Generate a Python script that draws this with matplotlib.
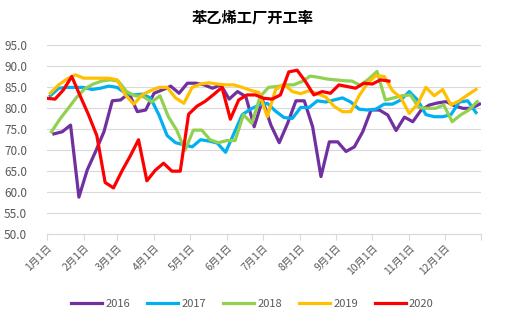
import matplotlib
matplotlib.use("Agg")
import matplotlib.pyplot as plt
import matplotlib.dates as mdates
import pandas as pd

plt.rcParams['font.family'] = ['Noto Sans CJK SC', 'DejaVu Sans']

title = "苯乙烯工厂开工率"
years = ["2016", "2017", "2018", "2019", "2020"]
colors = ["#7030A0", "#00B0F0", "#92D050", "#FFC000", "#FF0000"]
# first weekly date of each series (plotted on a common calendar year)
start_dates = ["2021-01-07", "2021-01-04", "2021-01-05", "2021-01-04", "2021-01-01"]

v2016 = [73.9, 74.4, 76.0, 58.8, 65.3, 69.7, 74.4, 81.8, 82.0, 83.6,
         79.2, 79.6, 83.6, 84.4, 85.3, 83.6, 86.0, 86.0, 85.6, 84.8,
         85.6, 82.2, 84.0, 82.8, 75.6, 82.0, 76.0, 71.8, 76.4, 81.8,
         81.8, 75.6, 63.7, 72.0, 72.0, 69.7, 70.8, 74.4, 79.6, 79.6,
         78.4, 74.7, 77.9, 76.8, 79.6, 80.8, 81.3, 81.6, 80.6, 80.0,
         80.0, 81.0]
v2017 = [83.0, 84.8, 85.0, 85.0, 85.0, 84.5, 84.8, 85.3, 85.0, 83.6,
         83.2, 83.4, 82.5, 78.5, 73.5, 71.8, 71.3, 70.8, 72.5, 72.2,
         71.7, 69.5, 74.0, 78.5, 79.8, 80.8, 81.2, 79.3, 77.8, 77.6,
         80.2, 80.2, 81.8, 81.5, 82.0, 82.5, 81.5, 79.8, 79.6, 79.8,
         81.0, 81.0, 82.0, 84.0, 82.0, 78.5, 78.0, 78.0, 78.5, 81.5,
         81.8, 79.0]
v2018 = [74.4, 77.4, 80.0, 82.6, 84.7, 85.8, 86.5, 86.8, 86.5, 84.0,
         83.0, 82.8, 81.5, 83.0, 78.0, 74.8, 70.0, 74.8, 74.8, 72.5,
         71.8, 72.3, 72.3, 78.5, 76.4, 82.8, 85.0, 85.2, 85.6, 85.6,
         86.4, 87.7, 87.4, 87.0, 86.8, 86.6, 86.5, 85.5, 87.0, 88.8,
         82.0, 82.5, 83.0, 83.2, 80.2, 80.0, 80.0, 80.8, 76.8, 78.4,
         79.6, 81.6]
v2019 = [83.6, 85.6, 87.0, 88.0, 87.2, 87.2, 87.2, 87.2, 86.8, 83.2,
         81.0, 83.2, 84.2, 85.0, 85.0, 82.5, 81.2, 85.0, 85.8, 86.1,
         85.8, 85.6, 85.6, 85.0, 84.3, 83.8, 78.0, 84.5, 85.8, 84.0,
         83.5, 84.2, 83.5, 82.7, 80.5, 79.2, 79.2, 83.0, 86.0, 87.8,
         87.6, 84.2, 82.5, 78.8, 81.0, 85.0, 83.0, 84.5, 80.8, 81.8,
         83.2, 84.5]
v2020 = [82.4, 82.2, 84.4, 87.6, 83.0, 78.5, 73.5, 62.3, 61.0, 65.0,
         68.6, 72.5, 62.7, 65.2, 66.9, 65.0, 65.0, 78.6, 80.5, 81.7,
         83.3, 85.0, 77.4, 82.0, 83.2, 83.2, 82.4, 82.2, 83.2, 88.7,
         89.1, 86.4, 83.2, 84.0, 83.6, 85.6, 85.2, 84.8, 86.0, 85.8,
         86.8, 86.5]
series = [v2016, v2017, v2018, v2019, v2020]

yticks = [50, 55, 60, 65, 70, 75, 80, 85, 90, 95]

fig = plt.figure(figsize=(5.05, 3.22), dpi=100)
ax = fig.add_axes([0.0925, 0.2733, 0.8595, 0.5854])

for name, vals, c, s in zip(years, series, colors, start_dates):
    dates = pd.date_range(s, periods=len(vals), freq="7D")
    ax.plot(dates, vals, color=c, lw=2.3, label=name, solid_joinstyle='round')

ax.set_xlim(pd.Timestamp("2021-01-01"), pd.Timestamp("2021-12-31"))
ax.set_ylim(50, 95)
ax.set_yticks(yticks)
ax.yaxis.set_major_formatter(matplotlib.ticker.FormatStrFormatter('%.1f'))
ax.grid(axis='y', color='#D9D9D9', lw=0.8)
ax.set_axisbelow(True)

ax.xaxis.set_major_locator(mdates.MonthLocator())
ax.set_xticks(list(ax.get_xticks()) + [mdates.date2num(pd.Timestamp("2021-12-31"))])
ax.set_xticklabels([f"{m}月1日" for m in range(1, 13)] + [""])
for lbl in ax.get_xticklabels():
    lbl.set_rotation(45)
    lbl.set_ha('right')
    lbl.set_rotation_mode('anchor')

for sp in ['top', 'right', 'left']:
    ax.spines[sp].set_visible(False)
ax.spines['bottom'].set_color('#D9D9D9')
ax.tick_params(axis='y', length=0, pad=14, labelsize=8.5, labelcolor='#595959')
ax.tick_params(axis='x', length=4, color='#D9D9D9', labelsize=7.5, labelcolor='#595959', pad=2)

fig.text(0.5, 0.945, title, ha='center', va='center', fontsize=11, fontweight='bold')

fig.legend(loc='lower center', bbox_to_anchor=(0.5, 0.01), ncol=5, frameon=False,
           fontsize=8, handlelength=2.8, columnspacing=1.5, handletextpad=0.3,
           labelcolor='#595959')

fig.savefig("out.png", dpi=100)
